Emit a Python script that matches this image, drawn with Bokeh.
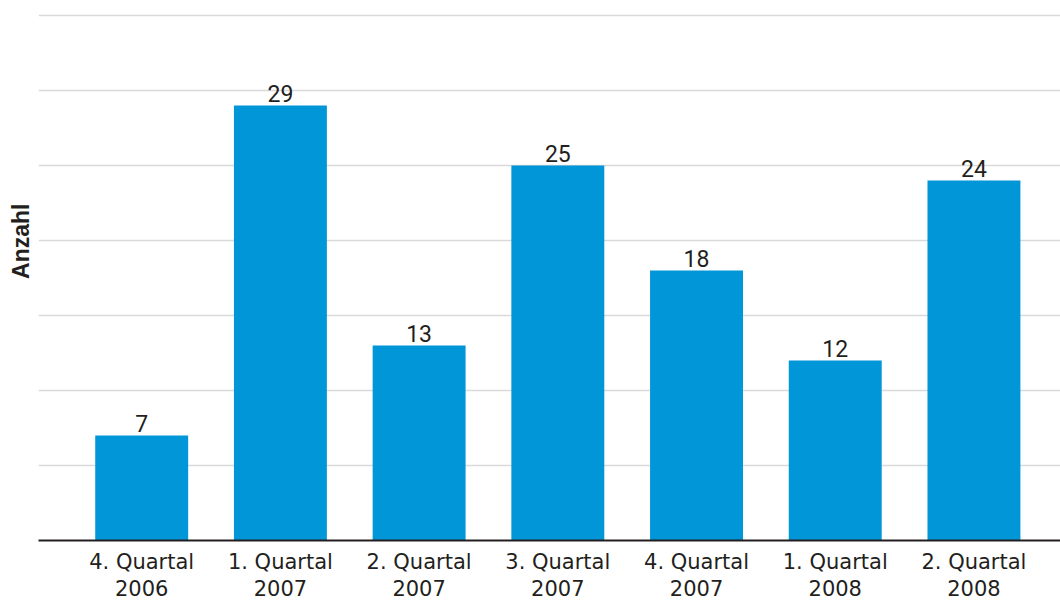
from bokeh.plotting import figure
from bokeh.models import ColumnDataSource, Range1d, FixedTicker, Title, SingleIntervalTicker
from bokeh.core.properties import value
from bokeh.embed import file_html
from bokeh.resources import INLINE

categories = ["4. Quartal\n2006", "1. Quartal\n2007", "2. Quartal\n2007", "3. Quartal\n2007",
              "4. Quartal\n2007", "1. Quartal\n2008", "2. Quartal\n2008"]
values = [7, 29, 13, 25, 18, 12, 24]
y_axis_title = "Anzahl"

AX_FONT = "DejaVu Sans"
VAL_FONT = "Roboto"
TTL_FONT = "Liberation Sans"
TXT = "#231f20"
BAR = "#0096d8"

xs = list(range(len(categories)))
src = ColumnDataSource(dict(x=xs, top=values, label=[str(v) for v in values]))

p = figure(width=1060, height=603, output_backend="svg", toolbar_location=None,
           x_range=Range1d(-0.744, 6.624), y_range=Range1d(0, 35.33),
           min_border_left=38, min_border_right=0, min_border_top=10, min_border_bottom=0)
p.outline_line_color = None
p.background_fill_color = "white"

p.vbar(x="x", top="top", width=0.67, source=src, color=BAR, line_color=None)
p.text(x="x", y="top", text="label", source=src, text_align="center", text_baseline="bottom",
       y_offset=-3, text_font=value(VAL_FONT), text_font_size="23px", text_color=TXT)

p.yaxis.visible = False
p.ygrid.ticker = SingleIntervalTicker(interval=5)
p.ygrid.grid_line_color = "#d9d9d9"
p.ygrid.grid_line_width = 1.5
p.xgrid.visible = False

ax = p.xaxis[0]
ax.ticker = FixedTicker(ticks=xs)
ax.major_label_overrides = {i: c for i, c in zip(xs, categories)}
ax.major_tick_line_color = None
ax.minor_tick_line_color = None
ax.major_tick_out = 0
ax.minor_tick_out = 0
ax.major_tick_in = 0
ax.axis_line_color = TXT
ax.axis_line_width = 2.2
ax.major_label_text_font = AX_FONT
ax.major_label_text_font_size = "21px"
ax.major_label_text_line_height = 1.13
ax.major_label_text_color = TXT
ax.major_label_standoff = 9

ttl = Title(text=y_axis_title, align="right", offset=193, text_font=TTL_FONT,
            text_font_size="23px", text_font_style="bold", text_color=TXT, standoff=10)
p.add_layout(ttl, "left")

open("out.html", "w").write(file_html(p, INLINE))
